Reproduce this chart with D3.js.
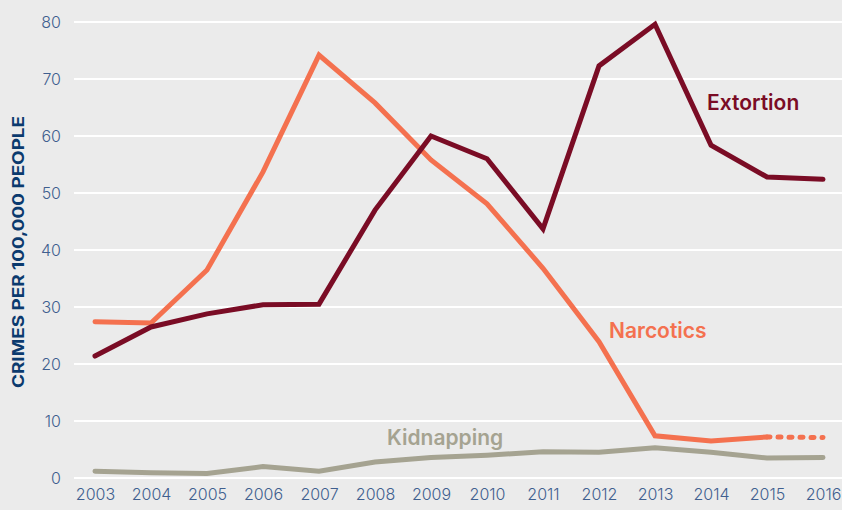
<!DOCTYPE html>
<html>
<head>
<meta charset="utf-8">
<script src="https://cdn.jsdelivr.net/npm/d3@7"></script>
<style>
  body { margin: 0; background: #ebebeb; }
  svg { display: block; font-family: "Inter", "Noto Sans", sans-serif; }
</style>
</head>
<body>
<div id="chart"></div>
<script>
// Data
const years = [2003, 2004, 2005, 2006, 2007, 2008, 2009, 2010, 2011, 2012, 2013, 2014, 2015, 2016];
const extortion = [21.4, 26.5, 28.8, 30.4, 30.5, 47.0, 60.0, 56.0, 43.7, 72.3, 79.6, 58.4, 52.8, 52.4];
const narcotics = [27.4, 27.2, 36.5, 53.7, 74.2, 65.8, 55.8, 48.1, 36.8, 23.9, 7.4, 6.5, 7.2, null];
const narcoticsEstimate = [null, null, null, null, null, null, null, null, null, null, null, null, 7.2, 7.1];
const kidnapping = [1.2, 0.9, 0.8, 2.0, 1.2, 2.8, 3.6, 4.0, 4.6, 4.5, 5.3, 4.5, 3.5, 3.6];
const yTicks = [0, 10, 20, 30, 40, 50, 60, 70, 80];

const width = 842;
const height = 510;

const x = d3.scaleLinear().domain([2003, 2016]).range([95, 823]);
const y = d3.scaleLinear().domain([0, 80]).range([478, 22]);

const svg = d3.select("#chart")
  .append("svg")
  .attr("width", width)
  .attr("height", height);

svg.append("rect")
  .attr("width", width)
  .attr("height", height)
  .attr("fill", "#ebebeb");

// Gridlines
svg.append("g")
  .selectAll("line")
  .data(yTicks)
  .enter()
  .append("line")
  .attr("x1", 74)
  .attr("x2", width)
  .attr("y1", (d) => y(d))
  .attr("y2", (d) => y(d))
  .attr("stroke", "#ffffff")
  .attr("stroke-width", 2);

// Y axis
const yAxis = svg.append("g")
  .attr("transform", "translate(61,0)")
  .call(d3.axisLeft(y).tickValues(yTicks).tickSize(0).tickPadding(0));
yAxis.select(".domain").remove();
yAxis.selectAll("text")
  .attr("fill", "#3f5f8f")
  .attr("dy", "0.35em")
  .style("font-size", "16px")
  .style("font-family", "Inter, sans-serif")
  .style("font-weight", 300);

// X axis
const xAxis = svg.append("g")
  .attr("transform", "translate(0,489)")
  .call(d3.axisBottom(x).tickValues(years).tickFormat(d3.format("d")).tickSize(0).tickPadding(0));
xAxis.select(".domain").remove();
xAxis.selectAll("text")
  .attr("fill", "#3f5f8f")
  .attr("dy", "0.71em")
  .style("font-size", "16px")
  .style("font-family", "Inter, sans-serif")
  .style("font-weight", 300);

// Axis title
svg.append("text")
  .attr("transform", "translate(24,252) rotate(-90)")
  .attr("text-anchor", "middle")
  .attr("fill", "#0b3a6e")
  .style("font-size", "16px")
  .style("font-weight", 700)
  .attr("textLength", 272)
  .attr("lengthAdjust", "spacingAndGlyphs")
  .text("CRIMES PER 100,000 PEOPLE");

// Lines
const line = d3.line()
  .defined((d) => d[1] !== null)
  .x((d) => x(d[0]))
  .y((d) => y(d[1]));

function drawLine(values, color, dash) {
  svg.append("path")
    .datum(years.map((yr, i) => [yr, values[i]]))
    .attr("fill", "none")
    .attr("stroke", color)
    .attr("stroke-width", 5)
    .attr("stroke-linecap", "round")
    .attr("stroke-linejoin", "miter")
    .attr("stroke-dasharray", dash || null)
    .attr("d", line);
}

drawLine(kidnapping, "#a5a391");
drawLine(narcotics, "#f4714f");
drawLine(narcoticsEstimate, "#f4714f", "3,8");
drawLine(extortion, "#7a0c25");

// Labels
const labels = [
  { text: "Extortion", x: 707, y: 110, color: "#7a0c25" },
  { text: "Narcotics", x: 609, y: 338, color: "#f4714f" },
  { text: "Kidnapping", x: 387, y: 445, color: "#a5a391" }
];

svg.selectAll("text.label")
  .data(labels)
  .enter()
  .append("text")
  .attr("class", "label")
  .attr("x", (d) => d.x)
  .attr("y", (d) => d.y)
  .attr("fill", (d) => d.color)
  .style("font-size", "21px")
  .style("font-weight", 600)
  .text((d) => d.text);
</script>
</body>
</html>
